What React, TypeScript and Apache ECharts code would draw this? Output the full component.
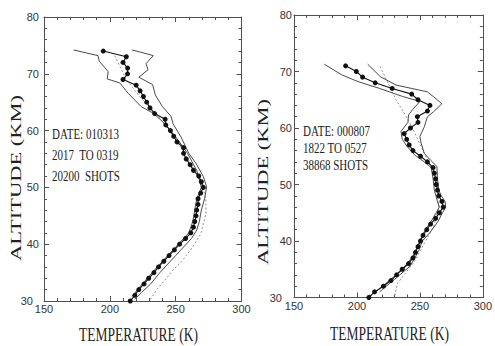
import React, { useEffect, useRef } from 'react';
import * as echarts from 'echarts';

// ---------- Left panel (DATE 010313) ----------
const ALT_L = [74, 73, 72, 71, 70, 69, 68, 67, 66, 65, 64, 63, 62, 61, 60, 59, 58, 57, 56, 55, 54, 53, 52, 51, 50, 49, 48, 47, 46, 45, 44, 43, 42, 41, 40, 39, 38, 37, 36, 35, 34, 33, 32, 31, 30];
const TEMP_L = [195, 212.5, 210, 213.5, 213.5, 210, 220, 223, 225.5, 228, 230.5, 234, 242, 242.5, 246, 248.5, 251, 256, 256, 258, 261, 263.5, 267.5, 269.5, 271, 269, 267, 267, 266, 265.5, 264.5, 263.5, 261.5, 257.5, 253, 249, 245, 241, 237, 233.5, 229.5, 226, 222, 219, 215.5];

const UP_L_T = [217, 233, 227.5, 229, 222, 232.5, 234.5, 240, 246.5, 248, 254, 260, 265.5, 271, 273.5, 272, 269.5, 268, 266, 262, 256, 250, 244, 238, 231, 224, 219];
const UP_L_A = [74.2, 73.2, 71.8, 70.7, 69.4, 68.1, 66.3, 64.2, 62.5, 61.2, 58.9, 56, 54.2, 51.9, 50.1, 48, 46, 44, 42.5, 41, 39.5, 38, 36.5, 35, 33, 31.5, 30.3];

const LO_L_T = [172.5, 191, 192, 198.7, 198, 207.5, 213.8, 223.9, 232.7, 240, 250, 259, 266, 269.5, 266, 264.5, 263, 260, 252, 244, 236, 228.5, 221, 217];
const LO_L_A = [74.2, 73.2, 72.2, 70.4, 69.1, 68.4, 66.6, 64.2, 63.1, 61.6, 58.9, 56, 53, 50, 48, 46, 44, 42, 40, 38, 36, 34, 32, 30.8];

const MOD_L_T = [203.7, 212.5, 222.6, 235.2, 250.3, 263, 270.5, 273, 273, 269.2, 262.9, 255.4, 247.8, 241.5, 235.2, 230.2];
const MOD_L_A = [73.2, 69, 66, 63, 58.4, 53.6, 50.1, 47.8, 45.4, 41.9, 39.5, 37.2, 35.4, 33.6, 31.9, 30];

const INFO_L = ['DATE: 010313', '2017  TO 0319', '20200  SHOTS'];

// ---------- Right panel (DATE 000807) ----------
const ALT_R = [71, 70, 69, 68, 67, 66, 65, 64, 63, 62, 61, 60, 59, 58, 57, 56, 55, 54, 53, 52, 51, 50, 49, 48, 47, 46, 45, 44, 43, 42, 41, 40, 39, 38, 37, 36, 35, 34, 33, 32, 31, 30];
const TEMP_R = [191, 199.5, 204.5, 214.5, 228, 243.5, 248.5, 258, 256, 248, 248.5, 242.5, 237.5, 239.5, 241.5, 244.5, 250.5, 256, 260.5, 261.5, 262.5, 263, 264, 265, 267.5, 268.5, 265.5, 262.5, 258.5, 255.5, 252.5, 250.5, 248.5, 246.5, 244.5, 241, 236, 231.5, 227, 221, 214, 209.5];

const UP_R_T = [208.5, 218.5, 231, 256, 261, 267.5, 261, 256, 253.5, 250, 251, 253.5, 258.5, 263.5, 264, 265, 267, 270, 270.5, 268, 264.5, 258, 252, 249.5, 246, 242, 234, 226, 218];
const UP_R_A = [71.3, 69.1, 67.6, 66.4, 65.5, 64.3, 62.9, 62, 60.2, 58.5, 57.3, 55.5, 54.3, 53.2, 51, 49, 48, 47, 46, 45, 43.5, 41.5, 40, 38.5, 37, 35.5, 34, 32.5, 31];

const LO_R_T = [174, 188, 201, 218, 236, 250, 244, 241, 240.5, 235, 236, 240, 246, 253.5, 259, 260.5, 261.5, 264, 265.5, 263, 259, 253, 249, 245, 240, 231, 222, 215];
const LO_R_A = [71.3, 69.4, 68.2, 67, 65.6, 64.7, 63.2, 62.3, 61, 59.4, 58, 56.7, 55.2, 54, 53, 51, 49, 47, 46, 45, 43.5, 41.5, 39.5, 37.5, 36, 34, 32.3, 31];

const MOD_R_T = [218.4, 231, 238.5, 244.7, 251, 258.5, 263.5, 264.8, 261, 253.5, 246, 238.5, 232.2, 229.7];
const MOD_R_A = [70.9, 65, 62.3, 59.7, 56.7, 53.2, 49.6, 46.1, 42.6, 39.6, 36.5, 34.3, 32.5, 30];

const INFO_R = ['DATE: 000807', '1822 TO 0527', '38868 SHOTS'];

// ---------- Axis labels ----------
const X_TITLE = 'TEMPERATURE (K)';
const Y_TITLE = 'ALTITUDE (KM)';
const T_MIN = 150, T_MAX = 300, T_STEP = 50;
const A_MIN = 30, A_MAX = 80, A_STEP = 10;

const pairs = (xs: number[], ys: number[]) => xs.map((x, i) => [x, ys[i]]);

const AXIS_COLOR = '#505050';
const SERIF = '"Liberation Serif", "Times New Roman", serif';
const SANS = '"Liberation Sans", Arial, sans-serif';

function xAxis(gridIndex: number, position: 'top' | 'bottom', showLabel: boolean, margin: number) {
  return {
    type: 'value', gridIndex, position, min: T_MIN, max: T_MAX, interval: T_STEP,
    axisLine: { show: true, onZero: false, lineStyle: { color: AXIS_COLOR, width: 1 } },
    axisTick: { show: true, inside: true, length: 5, lineStyle: { color: AXIS_COLOR, width: 1 } },
    minorTick: { show: true, splitNumber: 5, length: 3, lineStyle: { color: AXIS_COLOR, width: 1 } },
    splitLine: { show: false },
    axisLabel: { show: showLabel, fontFamily: SANS, fontSize: 11, color: '#333', margin },
  };
}
function yAxis(gridIndex: number, position: 'left' | 'right', showLabel: boolean, margin: number, minShift: number) {
  return {
    type: 'value', gridIndex, position, min: A_MIN, max: A_MAX, interval: A_STEP,
    axisLine: { show: true, onZero: false, lineStyle: { color: AXIS_COLOR, width: 1 } },
    axisTick: { show: true, inside: true, length: 5, lineStyle: { color: AXIS_COLOR, width: 1 } },
    minorTick: { show: true, splitNumber: 5, length: 3, lineStyle: { color: AXIS_COLOR, width: 1 } },
    splitLine: { show: false },
    axisLabel: {
      show: showLabel, fontFamily: SANS, fontSize: 11, color: '#333', margin,
      formatter: (v: number) => (v === A_MIN ? `{lo|${v}}` : `${v}`),
      rich: { lo: { fontFamily: SANS, fontSize: 11, color: '#333', padding: [0, minShift, 0, 0] } },
    },
  };
}

function panelSeries(xi: number, yi: number, main: number[][], up: number[][], lo: number[][], mod: number[][]) {
  return [
    {
      type: 'line', xAxisIndex: xi, yAxisIndex: yi, data: mod, showSymbol: false, symbol: 'none',
      lineStyle: { color: '#777', width: 0.8, type: [2, 2] }, z: 2,
    },
    {
      type: 'line', xAxisIndex: xi, yAxisIndex: yi, data: up, showSymbol: false, symbol: 'none',
      lineStyle: { color: '#4a4a4a', width: 1 }, z: 3,
    },
    {
      type: 'line', xAxisIndex: xi, yAxisIndex: yi, data: lo, showSymbol: false, symbol: 'none',
      lineStyle: { color: '#4a4a4a', width: 1 }, z: 3,
    },
    {
      type: 'line', xAxisIndex: xi, yAxisIndex: yi, data: main, symbol: 'circle', symbolSize: 5,
      itemStyle: { color: '#111' }, lineStyle: { color: '#111', width: 1.1 }, z: 4,
    },
  ];
}

function titleTexts(xCenter: number, xTitleY: number, yTitleX: number, yTitleY: number) {
  return [
    {
      type: 'text', x: xCenter, y: xTitleY, scaleY: 1.45,
      style: { text: X_TITLE, fontFamily: SERIF, fontSize: 13.5, fill: '#222', align: 'center', verticalAlign: 'middle' },
    },
    {
      type: 'text', x: yTitleX, y: yTitleY, rotation: Math.PI / 2, scaleX: 1.5,
      style: { text: Y_TITLE, fontFamily: SERIF, fontSize: 15, fill: '#222', align: 'center', verticalAlign: 'middle' },
    },
  ];
}

function infoTexts(lines: string[], x: number, y0: number, dy: number) {
  return lines.map((t, i) => ({
    type: 'text', x, y: y0 + i * dy, scaleY: 1.3,
    style: { text: t, fontFamily: SERIF, fontSize: 11, fill: '#222', align: 'left', verticalAlign: 'middle' },
  }));
}

export default function App() {
  const ref = useRef<HTMLDivElement>(null);
  useEffect(() => {
    const chart = echarts.init(ref.current!, null, { renderer: 'svg' });
    const option = {
      animation: false,
      backgroundColor: '#fff',
      grid: [
        { left: 44, top: 17, width: 197.5, height: 284 },
        { left: 294, top: 15, width: 199.5, height: 282.5 },
      ],
      xAxis: [
        xAxis(0, 'bottom', true, 2),
        xAxis(0, 'top', false, 2),
        xAxis(1, 'bottom', true, 3),
        xAxis(1, 'top', false, 2),
      ],
      yAxis: [
        yAxis(0, 'left', true, 5, 6),
        yAxis(0, 'right', false, 2, 0),
        yAxis(1, 'left', true, 2, 10),
        yAxis(1, 'right', false, 2, 0),
      ],
      series: [
        ...panelSeries(0, 0, pairs(TEMP_L, ALT_L), pairs(UP_L_T, UP_L_A), pairs(LO_L_T, LO_L_A), pairs(MOD_L_T, MOD_L_A)),
        ...panelSeries(2, 2, pairs(TEMP_R, ALT_R), pairs(UP_R_T, UP_R_A), pairs(LO_R_T, LO_R_A), pairs(MOD_R_T, MOD_R_A)),
      ],
      graphic: [
        ...titleTexts(138.5, 335, 16, 178),
        ...titleTexts(389.5, 334, 263, 182),
        ...infoTexts(INFO_L, 52, 135, 21),
        ...infoTexts(INFO_R, 303, 132, 17),
      ],
    };
    chart.setOption(option as any);
    return () => chart.dispose();
  }, []);
  return (
    <div
      ref={ref}
      style={{ position: 'fixed', left: 0, top: 0, width: 495, height: 346, background: '#fff' }}
    />
  );
}
